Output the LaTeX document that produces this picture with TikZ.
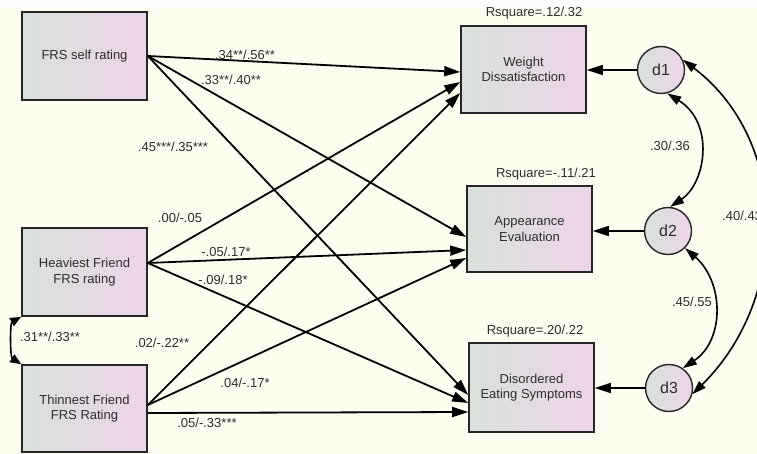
\documentclass[tikz,border=0pt]{standalone}
\usepackage{fontspec}
\setmainfont{Liberation Sans}
\usetikzlibrary{arrows.meta,calc}
\definecolor{bg}{RGB}{254,254,240}
\definecolor{boxL}{RGB}{216,225,218}
\definecolor{boxR}{RGB}{238,212,234}
\definecolor{txt}{RGB}{45,45,45}
\begin{document}
\begin{tikzpicture}[x=1pt,y=-1pt,
  var/.style={draw=black!85, line width=1.6pt, left color=boxL, right color=boxR,
    minimum width=125pt, minimum height=88pt, inner sep=0pt, align=center,
    text=txt, font=\fontsize{13}{15.5}\selectfont},
  err/.style={circle, draw=black!85, line width=1.4pt, left color=boxL, right color=boxR,
    minimum size=47pt, inner sep=0pt, text=txt, font=\fontsize{16}{18}\selectfont},
  pth/.style={line width=1.8pt, -{Triangle[length=16pt,width=10pt]}},
  cov/.style={line width=1.6pt, {Triangle[length=14pt,width=9pt]}-{Triangle[length=14pt,width=9pt]}},
  covs/.style={line width=1.6pt, {Triangle[length=11pt,width=9pt]}-{Triangle[length=11pt,width=9pt]}},
  lab/.style={text=txt, font=\fontsize{13}{15}\selectfont, inner sep=0pt},
]
\useasboundingbox (0,0) rectangle (757,454);
\fill[bg] (0,0) rectangle (757,454);
\fill[white] (0,0) rectangle (757,7);

% observed variables
\node[var] (self) at (84.5,56) {FRS self rating};
\node[var] (heavy) at (84.5,272) {Heaviest Friend\\FRS rating};
\node[var, minimum height=87pt] (thin) at (84.5,408.5) {Thinnest Friend\\FRS Rating};
\node[var, minimum height=87pt] (wd) at (523.5,69.5) {Weight\\Dissatisfaction};
\node[var, minimum height=86pt] (ae) at (529.5,229) {Appearance\\Evaluation};
\node[var, minimum height=89pt] (des) at (531.5,387.5) {Disordered\\Eating Symptoms};

% error terms
\node[err] (d1) at (661,70) {d1};
\node[err] (d2) at (668,231) {d2};
\node[err] (d3) at (669,388) {d3};

% R square labels
\node[lab] (r1) at (534,13) {Rsquare=.12/.32};
\node[lab] (r2) at (546,174) {Rsquare=-.11/.21};
\node[lab] (r3) at (535,331) {Rsquare=.20/.22};

% paths from FRS self rating
\draw[pth] (self.east) -- ($(wd.west)+(0,2.5)$);
\draw[pth] (self.east) -- ($(ae.west)+(0,8)$);
\draw[pth] (self.east) -- ($(des.west)+(0,7.5)$);
% paths from Heaviest Friend
\draw[pth] ($(heavy.east)+(0,-9)$) -- ($(wd.west)+(0,12.5)$);
\draw[pth] ($(heavy.east)+(0,-9)$) -- ($(ae.west)+(0,21)$);
\draw[pth] ($(heavy.east)+(0,-9)$) -- ($(des.west)+(0,15.5)$);
% paths from Thinnest Friend
\draw[pth] ($(thin.east)+(0,-3.5)$) -- ($(wd.west)+(0,23.5)$);
\draw[pth] ($(thin.east)+(0,-3.5)$) -- ($(ae.west)+(0,29)$);
\draw[pth] ($(thin.east)+(0,4.5)$) -- ($(des.west)+(0,24.5)$);

% error arrows
\draw[pth] (d1.west) -- (d1.west -| wd.east);
\draw[pth] (d2.west) -- (d2.west -| ae.east);
\draw[pth] (d3.west) -- (d3.west -| des.east);

% covariances
\draw[cov] (d1.-75) .. controls (715,123) and (706,183) .. (d2.85);
\draw[cov] (d2.-45) .. controls (724,282) and (725,340) .. (d3.55);
\draw[cov] (d1.25) .. controls (790,141) and (790,298) .. (d3.-15);
\draw[covs] (heavy.south west) .. controls (10,323) and (10,357) .. (thin.north west);

% path coefficients
\node[lab] (l1) at (245,55) {.34**/.56**};
\node[lab] (l2) at (231,80) {.33**/.40**};
\node[lab] (l3) at (173,147) {.45***/.35***};
\node[lab] (l4) at (180,218) {.00/-.05};
\node[lab] (l5) at (226,252) {-.05/.17*};
\node[lab] (l6) at (223,280) {-.09/.18*};
\node[lab] (l7) at (162,343) {.02/-.22**};
\node[lab] (l8) at (245,383) {.04/-.17*};
\node[lab] (l9) at (207,423) {.05/-.33***};
\node[lab] (l10) at (50,337) {.31**/.33**};
\node[lab] (l11) at (670,146) {.30/.36};
\node[lab] (l12) at (692,302) {.45/.55};
\node[lab, anchor=west] (l13) at (722,216) {.40/.43};
\end{tikzpicture}
\end{document}
